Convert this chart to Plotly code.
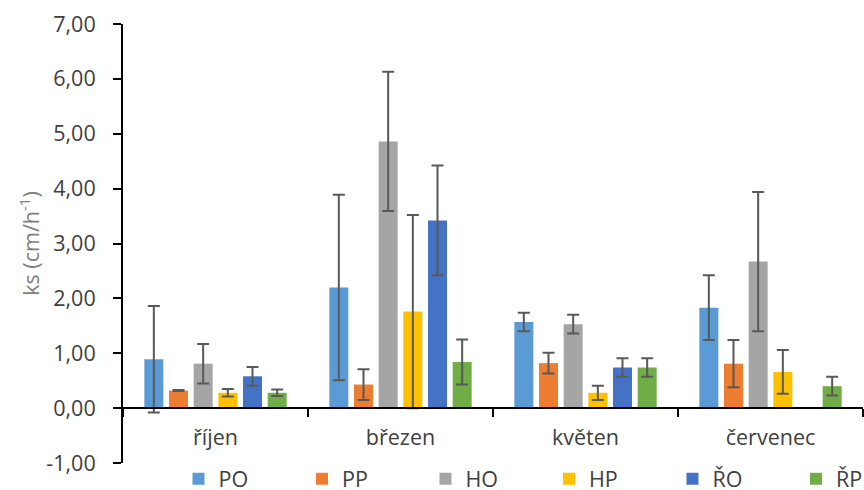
import plotly.graph_objects as go

categories = ["říjen", "březen", "květen", "červenec"]
series_names = ["PO", "PP", "HO", "HP", "ŘO", "ŘP"]
colors = ["#5B9BD5", "#ED7D31", "#A5A5A5", "#FFC000", "#4472C4", "#70AD47"]

PO = [0.89, 2.20, 1.57, 1.83]
PP = [0.32, 0.43, 0.82, 0.81]
HO = [0.81, 4.86, 1.53, 2.67]
HP = [0.28, 1.76, 0.28, 0.66]
RO = [0.58, 3.42, 0.74, None]
RP = [0.28, 0.84, 0.74, 0.40]

PO_err = [0.97, 1.69, 0.17, 0.59]
PP_err = [0.01, 0.28, 0.19, 0.43]
HO_err = [0.36, 1.27, 0.17, 1.27]
HP_err = [0.07, 1.76, 0.13, 0.40]
RO_err = [0.17, 1.00, 0.17, None]
RP_err = [0.06, 0.41, 0.17, 0.17]

y_ticks = [-1, 0, 1, 2, 3, 4, 5, 6, 7]
y_ticktext = ["-1,00", "0,00", "1,00", "2,00", "3,00", "4,00", "5,00", "6,00", "7,00"]

values = [PO, PP, HO, HP, RO, RP]
errors = [PO_err, PP_err, HO_err, HP_err, RO_err, RP_err]

FONT = "Open Sans, Noto Sans, sans-serif"
FS = 21.5

fig = go.Figure()
for name, col, vals, errs in zip(series_names, colors, values, errors):
    fig.add_trace(go.Bar(
        name=name, x=categories, y=vals, marker=dict(color=col, line=dict(width=0)),
        error_y=dict(type="data", array=errs, visible=True, color="#595959",
                     thickness=2, width=6),
    ))

TOP = 24
BOT = 463
xaxis_pos = 1 / 8  # y = 0 within range [-1, 7]

fig.update_layout(
    width=864, height=490,
    margin=dict(l=123, r=1, t=TOP, b=490 - BOT, autoexpand=False),
    paper_bgcolor="white", plot_bgcolor="white",
    barmode="group", bargap=0.2, bargroupgap=0.23,
    font=dict(family=FONT, size=FS, color="#404040"),
    showlegend=True,
    legend=dict(orientation="h", x=0.075, xanchor="left", y=-0.036, yanchor="middle",
                entrywidth=78.5, entrywidthmode="pixels", itemwidth=30,
                font=dict(size=FS, color="#404040"), traceorder="normal",
                bgcolor="rgba(0,0,0,0)"),
    xaxis=dict(
        type="category", range=[-0.5, 3.5], anchor="free", position=xaxis_pos,
        showline=True, linecolor="#000000", linewidth=2,
        ticks="outside", tickson="boundaries", ticklen=8, tickwidth=2, tickcolor="#000000",
        ticklabelstandoff=10, showgrid=False, zeroline=False,
        tickfont=dict(size=FS, color="#404040"),
    ),
    yaxis=dict(
        range=[-1, 7], tickvals=y_ticks, ticktext=y_ticktext,
        showline=True, linecolor="#000000", linewidth=2,
        ticks="outside", ticklen=8, tickwidth=2, tickcolor="#000000",
        ticklabelstandoff=13, showgrid=False, zeroline=False,
        tickfont=dict(size=FS, color="#404040"),
        title=dict(text="ks (cm/h<sup>-1</sup>)", font=dict(size=FS, color="#7F7F7F"), standoff=1),
    ),
)

fig.write_html("out.html", config={"displayModeBar": False},
               post_script="document.body.style.margin='0';")
